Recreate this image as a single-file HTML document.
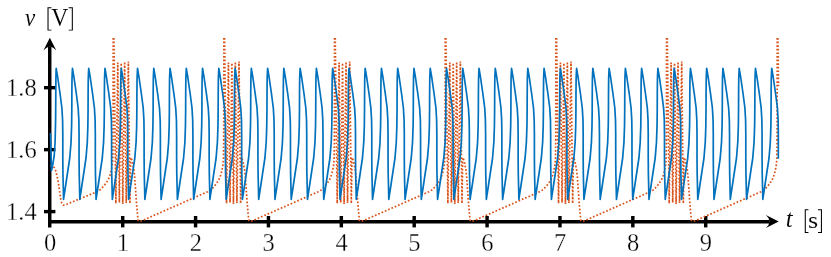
<!DOCTYPE html>
<html><head><meta charset="utf-8"><title>plot</title>
<style>
html,body{margin:0;padding:0;background:#fff;}
body{width:831px;height:257px;overflow:hidden;}
svg{display:block;}
text{font-family:"Liberation Serif",serif;font-size:24.5px;fill:#000;stroke:#fff;stroke-width:0.3px;paint-order:fill stroke;}
</style></head><body>
<svg width="831" height="257" viewBox="0 0 831 257">
<rect width="831" height="257" fill="#fff"/>
<path d="M48,46.8 H51.45 V220 H769.5 V223.45 H51.45 V227.4 H48 Z" fill="#000"/>
<g fill="#000"><rect x="120.98" y="216" width="3.45" height="11.4"/><rect x="193.85" y="216" width="3.45" height="11.4"/><rect x="266.72" y="216" width="3.45" height="11.4"/><rect x="339.60" y="216" width="3.45" height="11.4"/><rect x="412.47" y="216" width="3.45" height="11.4"/><rect x="485.35" y="216" width="3.45" height="11.4"/><rect x="558.23" y="216" width="3.45" height="11.4"/><rect x="631.10" y="216" width="3.45" height="11.4"/><rect x="703.98" y="216" width="3.45" height="11.4"/><rect x="44" y="209.90" width="11.4" height="3.4"/><rect x="44" y="147.95" width="11.4" height="3.4"/><rect x="44" y="86.00" width="11.4" height="3.4"/></g>
<path d="M49.85,37.7 L56.3,50.6 Q49.85,43.0 43.4,50.6 Z" fill="#000"/>
<path d="M778.7,221.44 L765.9,227.9 Q773.2,221.44 765.9,215.0 Z" fill="#000"/>
<path d="M50.20,165.50 L52.50,166.20 L54.30,167.60 L55.80,171.00 L57.10,176.20 L58.20,182.00 L59.20,188.40 L60.00,194.00 L60.70,199.00 L61.80,203.20 L63.40,205.20 L65.20,204.90 L96.96,191.75 L100.56,189.60 L104.36,185.30 L108.16,180.00 L110.46,174.00 L112.16,166.00 L112.76,160.00 L113.06,140.00 M113.21,38.00 L113.06,140.00 M113.91,38.00 L115.86,202.30 M115.86,203.20 L117.76,62.60 M119.36,200.70 L117.76,62.60 M119.36,202.50 L121.21,62.20 M122.76,202.30 L121.21,62.20 M122.76,204.10 L124.66,62.60 M126.21,201.30 L124.66,62.60 M126.21,203.10 L128.36,61.60 M129.96,202.10 L128.36,61.60 M129.96,203.00 L130.46,175.00 L130.56,160.00 L130.96,157.50 L132.16,161.00 L133.96,170.00 L134.76,178.00 L135.46,188.00 L136.56,204.00 L138.06,220.30 L139.56,221.40 L141.76,220.80 L207.63,191.75 L211.23,189.60 L215.03,185.30 L218.83,180.00 L221.13,174.00 L222.83,166.00 L223.43,160.00 L223.73,140.00 M223.88,38.00 L223.73,140.00 M224.58,38.00 L226.53,202.30 M226.53,203.20 L228.43,62.60 M230.03,200.70 L228.43,62.60 M230.03,202.50 L231.88,62.20 M233.43,202.30 L231.88,62.20 M233.43,204.10 L235.33,62.60 M236.88,201.30 L235.33,62.60 M236.88,203.10 L239.03,61.60 M240.63,202.10 L239.03,61.60 M240.63,203.00 L241.13,175.00 L241.23,160.00 L241.63,157.50 L242.83,161.00 L244.63,170.00 L245.43,178.00 L246.13,188.00 L247.23,204.00 L248.73,220.30 L250.23,221.40 L252.43,220.80 L318.30,191.75 L321.90,189.60 L325.70,185.30 L329.50,180.00 L331.80,174.00 L333.50,166.00 L334.10,160.00 L334.40,140.00 M334.55,38.00 L334.40,140.00 M335.25,38.00 L337.20,202.30 M337.20,203.20 L339.10,62.60 M340.70,200.70 L339.10,62.60 M340.70,202.50 L342.55,62.20 M344.10,202.30 L342.55,62.20 M344.10,204.10 L346.00,62.60 M347.55,201.30 L346.00,62.60 M347.55,203.10 L349.70,61.60 M351.30,202.10 L349.70,61.60 M351.30,203.00 L351.80,175.00 L351.90,160.00 L352.30,157.50 L353.50,161.00 L355.30,170.00 L356.10,178.00 L356.80,188.00 L357.90,204.00 L359.40,220.30 L360.90,221.40 L363.10,220.80 L428.97,191.75 L432.57,189.60 L436.37,185.30 L440.17,180.00 L442.47,174.00 L444.17,166.00 L444.77,160.00 L445.07,140.00 M445.22,38.00 L445.07,140.00 M445.92,38.00 L447.87,202.30 M447.87,203.20 L449.77,62.60 M451.37,200.70 L449.77,62.60 M451.37,202.50 L453.22,62.20 M454.77,202.30 L453.22,62.20 M454.77,204.10 L456.67,62.60 M458.22,201.30 L456.67,62.60 M458.22,203.10 L460.37,61.60 M461.97,202.10 L460.37,61.60 M461.97,203.00 L462.47,175.00 L462.57,160.00 L462.97,157.50 L464.17,161.00 L465.97,170.00 L466.77,178.00 L467.47,188.00 L468.57,204.00 L470.07,220.30 L471.57,221.40 L473.77,220.80 L539.64,191.75 L543.24,189.60 L547.04,185.30 L550.84,180.00 L553.14,174.00 L554.84,166.00 L555.44,160.00 L555.74,140.00 M555.89,38.00 L555.74,140.00 M556.59,38.00 L558.54,202.30 M558.54,203.20 L560.44,62.60 M562.04,200.70 L560.44,62.60 M562.04,202.50 L563.89,62.20 M565.44,202.30 L563.89,62.20 M565.44,204.10 L567.34,62.60 M568.89,201.30 L567.34,62.60 M568.89,203.10 L571.04,61.60 M572.64,202.10 L571.04,61.60 M572.64,203.00 L573.14,175.00 L573.24,160.00 L573.64,157.50 L574.84,161.00 L576.64,170.00 L577.44,178.00 L578.14,188.00 L579.24,204.00 L580.74,220.30 L582.24,221.40 L584.44,220.80 L650.31,191.75 L653.91,189.60 L657.71,185.30 L661.51,180.00 L663.81,174.00 L665.51,166.00 L666.11,160.00 L666.41,140.00 M666.56,38.00 L666.41,140.00 M667.26,38.00 L669.21,202.30 M669.21,203.20 L671.11,62.60 M672.71,200.70 L671.11,62.60 M672.71,202.50 L674.56,62.20 M676.11,202.30 L674.56,62.20 M676.11,204.10 L678.01,62.60 M679.56,201.30 L678.01,62.60 M679.56,203.10 L681.71,61.60 M683.31,202.10 L681.71,61.60 M683.31,203.00 L683.81,175.00 L683.91,160.00 L684.31,157.50 L685.51,161.00 L687.31,170.00 L688.11,178.00 L688.81,188.00 L689.91,204.00 L691.41,220.30 L692.91,221.40 L695.11,220.80 L760.98,191.75 L764.58,189.60 L768.38,185.30 L772.18,180.00 L774.48,174.00 L776.18,166.00 L776.78,160.00 L777.08,140.00 M777.23,38.00 L777.08,140.00 M777.93,38.00 L778.50,86.03" fill="none" stroke="#D95319" stroke-width="1.7" stroke-linejoin="round" stroke-dasharray="1.7 1.9"/>
<path d="M50.50,133.00 L50.90,150.00 L51.50,170.50 L52.50,166.00 L54.20,156.00 L55.10,142.00 L55.60,120.00 L55.80,94.00 L55.90,78.00 L56.20,68.45 L57.80,78.00 L60.10,94.00 L61.90,108.00 L62.60,120.00 L62.80,134.00 L62.80,158.00 L62.95,174.00 L63.30,188.00 L63.45,195.00 L63.56,199.45 L64.16,195.00 L64.96,190.00 L67.36,174.00 L69.76,158.00 L71.06,142.00 L71.61,126.00 L71.81,110.00 L71.86,94.00 L72.01,78.00 L72.46,68.45 L74.06,78.00 L76.36,94.00 L78.16,108.00 L78.86,120.00 L79.06,134.00 L79.06,158.00 L79.21,174.00 L79.56,188.00 L79.71,195.00 L79.82,199.45 L80.42,195.00 L81.22,190.00 L83.62,174.00 L86.02,158.00 L87.32,142.00 L87.87,126.00 L88.07,110.00 L88.12,94.00 L88.27,78.00 L88.72,68.45 L90.32,78.00 L92.62,94.00 L94.42,108.00 L95.12,120.00 L95.32,134.00 L95.32,158.00 L95.47,174.00 L95.82,188.00 L95.97,195.00 L96.09,199.45 L96.69,195.00 L97.49,190.00 L99.89,174.00 L102.29,158.00 L103.59,142.00 L104.14,126.00 L104.34,110.00 L104.39,94.00 L104.54,78.00 L104.99,68.45 L106.59,78.00 L108.89,94.00 L110.69,108.00 L111.39,120.00 L111.59,134.00 L111.59,158.00 L111.74,174.00 L112.09,188.00 L112.24,195.00 L112.35,199.45 L112.95,195.00 L113.75,190.00 L116.15,174.00 L118.55,158.00 L119.85,142.00 L120.40,126.00 L120.60,110.00 L120.65,94.00 L120.80,78.00 L121.25,68.45 L122.85,78.00 L125.15,94.00 L126.95,108.00 L127.65,120.00 L127.85,134.00 L127.85,158.00 L128.00,174.00 L128.35,188.00 L128.50,195.00 L128.61,199.45 L129.21,195.00 L130.01,190.00 L132.41,174.00 L134.81,158.00 L136.11,142.00 L136.66,126.00 L136.86,110.00 L136.91,94.00 L137.06,78.00 L137.51,68.45 L139.11,78.00 L141.41,94.00 L143.21,108.00 L143.91,120.00 L144.11,134.00 L144.11,158.00 L144.26,174.00 L144.61,188.00 L144.76,195.00 L144.87,199.45 L145.47,195.00 L146.27,190.00 L148.67,174.00 L151.07,158.00 L152.37,142.00 L152.92,126.00 L153.12,110.00 L153.17,94.00 L153.32,78.00 L153.77,68.45 L155.37,78.00 L157.67,94.00 L159.47,108.00 L160.17,120.00 L160.37,134.00 L160.37,158.00 L160.52,174.00 L160.87,188.00 L161.02,195.00 L161.13,199.45 L161.73,195.00 L162.53,190.00 L164.93,174.00 L167.33,158.00 L168.63,142.00 L169.18,126.00 L169.38,110.00 L169.43,94.00 L169.58,78.00 L170.03,68.45 L171.63,78.00 L173.93,94.00 L175.73,108.00 L176.43,120.00 L176.63,134.00 L176.63,158.00 L176.78,174.00 L177.13,188.00 L177.28,195.00 L177.40,199.45 L178.00,195.00 L178.80,190.00 L181.20,174.00 L183.60,158.00 L184.90,142.00 L185.45,126.00 L185.65,110.00 L185.70,94.00 L185.85,78.00 L186.30,68.45 L187.90,78.00 L190.20,94.00 L192.00,108.00 L192.70,120.00 L192.90,134.00 L192.90,158.00 L193.05,174.00 L193.40,188.00 L193.55,195.00 L193.66,199.45 L194.26,195.00 L195.06,190.00 L197.46,174.00 L199.86,158.00 L201.16,142.00 L201.71,126.00 L201.91,110.00 L201.96,94.00 L202.11,78.00 L202.56,68.45 L204.16,78.00 L206.46,94.00 L208.26,108.00 L208.96,120.00 L209.16,134.00 L209.16,158.00 L209.31,174.00 L209.66,188.00 L209.81,195.00 L209.92,199.45 L210.52,195.00 L211.32,190.00 L213.72,174.00 L216.12,158.00 L217.42,142.00 L217.97,126.00 L218.17,110.00 L218.22,94.00 L218.37,78.00 L218.82,68.45 L220.42,78.00 L222.72,94.00 L224.52,108.00 L225.22,120.00 L225.42,134.00 L225.42,158.00 L225.57,174.00 L225.92,188.00 L226.07,195.00 L226.18,199.45 L226.78,195.00 L227.58,190.00 L229.98,174.00 L232.38,158.00 L233.68,142.00 L234.23,126.00 L234.43,110.00 L234.48,94.00 L234.63,78.00 L235.08,68.45 L236.68,78.00 L238.98,94.00 L240.78,108.00 L241.48,120.00 L241.68,134.00 L241.68,158.00 L241.83,174.00 L242.18,188.00 L242.33,195.00 L242.44,199.45 L243.04,195.00 L243.84,190.00 L246.24,174.00 L248.64,158.00 L249.94,142.00 L250.49,126.00 L250.69,110.00 L250.74,94.00 L250.89,78.00 L251.34,68.45 L252.94,78.00 L255.24,94.00 L257.04,108.00 L257.74,120.00 L257.94,134.00 L257.94,158.00 L258.09,174.00 L258.44,188.00 L258.59,195.00 L258.71,199.45 L259.31,195.00 L260.11,190.00 L262.51,174.00 L264.91,158.00 L266.21,142.00 L266.76,126.00 L266.96,110.00 L267.01,94.00 L267.16,78.00 L267.61,68.45 L269.21,78.00 L271.51,94.00 L273.31,108.00 L274.01,120.00 L274.21,134.00 L274.21,158.00 L274.36,174.00 L274.71,188.00 L274.86,195.00 L274.97,199.45 L275.57,195.00 L276.37,190.00 L278.77,174.00 L281.17,158.00 L282.47,142.00 L283.02,126.00 L283.22,110.00 L283.27,94.00 L283.42,78.00 L283.87,68.45 L285.47,78.00 L287.77,94.00 L289.57,108.00 L290.27,120.00 L290.47,134.00 L290.47,158.00 L290.62,174.00 L290.97,188.00 L291.12,195.00 L291.23,199.45 L291.83,195.00 L292.63,190.00 L295.03,174.00 L297.43,158.00 L298.73,142.00 L299.28,126.00 L299.48,110.00 L299.53,94.00 L299.68,78.00 L300.13,68.45 L301.73,78.00 L304.03,94.00 L305.83,108.00 L306.53,120.00 L306.73,134.00 L306.73,158.00 L306.88,174.00 L307.23,188.00 L307.38,195.00 L307.49,199.45 L308.09,195.00 L308.89,190.00 L311.29,174.00 L313.69,158.00 L314.99,142.00 L315.54,126.00 L315.74,110.00 L315.79,94.00 L315.94,78.00 L316.39,68.45 L317.99,78.00 L320.29,94.00 L322.09,108.00 L322.79,120.00 L322.99,134.00 L322.99,158.00 L323.14,174.00 L323.49,188.00 L323.64,195.00 L323.75,199.45 L324.35,195.00 L325.15,190.00 L327.55,174.00 L329.95,158.00 L331.25,142.00 L331.80,126.00 L332.00,110.00 L332.05,94.00 L332.20,78.00 L332.65,68.45 L334.25,78.00 L336.55,94.00 L338.35,108.00 L339.05,120.00 L339.25,134.00 L339.25,158.00 L339.40,174.00 L339.75,188.00 L339.90,195.00 L340.02,199.45 L340.62,195.00 L341.42,190.00 L343.82,174.00 L346.22,158.00 L347.52,142.00 L348.07,126.00 L348.27,110.00 L348.32,94.00 L348.47,78.00 L348.92,68.45 L350.52,78.00 L352.82,94.00 L354.62,108.00 L355.32,120.00 L355.52,134.00 L355.52,158.00 L355.67,174.00 L356.02,188.00 L356.17,195.00 L356.28,199.45 L356.88,195.00 L357.68,190.00 L360.08,174.00 L362.48,158.00 L363.78,142.00 L364.33,126.00 L364.53,110.00 L364.58,94.00 L364.73,78.00 L365.18,68.45 L366.78,78.00 L369.08,94.00 L370.88,108.00 L371.58,120.00 L371.78,134.00 L371.78,158.00 L371.93,174.00 L372.28,188.00 L372.43,195.00 L372.54,199.45 L373.14,195.00 L373.94,190.00 L376.34,174.00 L378.74,158.00 L380.04,142.00 L380.59,126.00 L380.79,110.00 L380.84,94.00 L380.99,78.00 L381.44,68.45 L383.04,78.00 L385.34,94.00 L387.14,108.00 L387.84,120.00 L388.04,134.00 L388.04,158.00 L388.19,174.00 L388.54,188.00 L388.69,195.00 L388.80,199.45 L389.40,195.00 L390.20,190.00 L392.60,174.00 L395.00,158.00 L396.30,142.00 L396.85,126.00 L397.05,110.00 L397.10,94.00 L397.25,78.00 L397.70,68.45 L399.30,78.00 L401.60,94.00 L403.40,108.00 L404.10,120.00 L404.30,134.00 L404.30,158.00 L404.45,174.00 L404.80,188.00 L404.95,195.00 L405.06,199.45 L405.66,195.00 L406.46,190.00 L408.86,174.00 L411.26,158.00 L412.56,142.00 L413.11,126.00 L413.31,110.00 L413.36,94.00 L413.51,78.00 L413.96,68.45 L415.56,78.00 L417.86,94.00 L419.66,108.00 L420.36,120.00 L420.56,134.00 L420.56,158.00 L420.71,174.00 L421.06,188.00 L421.21,195.00 L421.33,199.45 L421.93,195.00 L422.73,190.00 L425.13,174.00 L427.53,158.00 L428.83,142.00 L429.38,126.00 L429.58,110.00 L429.63,94.00 L429.78,78.00 L430.23,68.45 L431.83,78.00 L434.13,94.00 L435.93,108.00 L436.63,120.00 L436.83,134.00 L436.83,158.00 L436.98,174.00 L437.33,188.00 L437.48,195.00 L437.59,199.45 L438.19,195.00 L438.99,190.00 L441.39,174.00 L443.79,158.00 L445.09,142.00 L445.64,126.00 L445.84,110.00 L445.89,94.00 L446.04,78.00 L446.49,68.45 L448.09,78.00 L450.39,94.00 L452.19,108.00 L452.89,120.00 L453.09,134.00 L453.09,158.00 L453.24,174.00 L453.59,188.00 L453.74,195.00 L453.85,199.45 L454.45,195.00 L455.25,190.00 L457.65,174.00 L460.05,158.00 L461.35,142.00 L461.90,126.00 L462.10,110.00 L462.15,94.00 L462.30,78.00 L462.75,68.45 L464.35,78.00 L466.65,94.00 L468.45,108.00 L469.15,120.00 L469.35,134.00 L469.35,158.00 L469.50,174.00 L469.85,188.00 L470.00,195.00 L470.11,199.45 L470.71,195.00 L471.51,190.00 L473.91,174.00 L476.31,158.00 L477.61,142.00 L478.16,126.00 L478.36,110.00 L478.41,94.00 L478.56,78.00 L479.01,68.45 L480.61,78.00 L482.91,94.00 L484.71,108.00 L485.41,120.00 L485.61,134.00 L485.61,158.00 L485.76,174.00 L486.11,188.00 L486.26,195.00 L486.37,199.45 L486.97,195.00 L487.77,190.00 L490.17,174.00 L492.57,158.00 L493.87,142.00 L494.42,126.00 L494.62,110.00 L494.67,94.00 L494.82,78.00 L495.27,68.45 L496.87,78.00 L499.17,94.00 L500.97,108.00 L501.67,120.00 L501.87,134.00 L501.87,158.00 L502.02,174.00 L502.37,188.00 L502.52,195.00 L502.64,199.45 L503.24,195.00 L504.04,190.00 L506.44,174.00 L508.84,158.00 L510.14,142.00 L510.69,126.00 L510.89,110.00 L510.94,94.00 L511.09,78.00 L511.54,68.45 L513.14,78.00 L515.44,94.00 L517.24,108.00 L517.94,120.00 L518.14,134.00 L518.14,158.00 L518.29,174.00 L518.64,188.00 L518.79,195.00 L518.90,199.45 L519.50,195.00 L520.30,190.00 L522.70,174.00 L525.10,158.00 L526.40,142.00 L526.95,126.00 L527.15,110.00 L527.20,94.00 L527.35,78.00 L527.80,68.45 L529.40,78.00 L531.70,94.00 L533.50,108.00 L534.20,120.00 L534.40,134.00 L534.40,158.00 L534.55,174.00 L534.90,188.00 L535.05,195.00 L535.16,199.45 L535.76,195.00 L536.56,190.00 L538.96,174.00 L541.36,158.00 L542.66,142.00 L543.21,126.00 L543.41,110.00 L543.46,94.00 L543.61,78.00 L544.06,68.45 L545.66,78.00 L547.96,94.00 L549.76,108.00 L550.46,120.00 L550.66,134.00 L550.66,158.00 L550.81,174.00 L551.16,188.00 L551.31,195.00 L551.42,199.45 L552.02,195.00 L552.82,190.00 L555.22,174.00 L557.62,158.00 L558.92,142.00 L559.47,126.00 L559.67,110.00 L559.72,94.00 L559.87,78.00 L560.32,68.45 L561.92,78.00 L564.22,94.00 L566.02,108.00 L566.72,120.00 L566.92,134.00 L566.92,158.00 L567.07,174.00 L567.42,188.00 L567.57,195.00 L567.68,199.45 L568.28,195.00 L569.08,190.00 L571.48,174.00 L573.88,158.00 L575.18,142.00 L575.73,126.00 L575.93,110.00 L575.98,94.00 L576.13,78.00 L576.58,68.45 L578.18,78.00 L580.48,94.00 L582.28,108.00 L582.98,120.00 L583.18,134.00 L583.18,158.00 L583.33,174.00 L583.68,188.00 L583.83,195.00 L583.95,199.45 L584.55,195.00 L585.35,190.00 L587.75,174.00 L590.15,158.00 L591.45,142.00 L592.00,126.00 L592.20,110.00 L592.25,94.00 L592.40,78.00 L592.85,68.45 L594.45,78.00 L596.75,94.00 L598.55,108.00 L599.25,120.00 L599.45,134.00 L599.45,158.00 L599.60,174.00 L599.95,188.00 L600.10,195.00 L600.21,199.45 L600.81,195.00 L601.61,190.00 L604.01,174.00 L606.41,158.00 L607.71,142.00 L608.26,126.00 L608.46,110.00 L608.51,94.00 L608.66,78.00 L609.11,68.45 L610.71,78.00 L613.01,94.00 L614.81,108.00 L615.51,120.00 L615.71,134.00 L615.71,158.00 L615.86,174.00 L616.21,188.00 L616.36,195.00 L616.47,199.45 L617.07,195.00 L617.87,190.00 L620.27,174.00 L622.67,158.00 L623.97,142.00 L624.52,126.00 L624.72,110.00 L624.77,94.00 L624.92,78.00 L625.37,68.45 L626.97,78.00 L629.27,94.00 L631.07,108.00 L631.77,120.00 L631.97,134.00 L631.97,158.00 L632.12,174.00 L632.47,188.00 L632.62,195.00 L632.73,199.45 L633.33,195.00 L634.13,190.00 L636.53,174.00 L638.93,158.00 L640.23,142.00 L640.78,126.00 L640.98,110.00 L641.03,94.00 L641.18,78.00 L641.63,68.45 L643.23,78.00 L645.53,94.00 L647.33,108.00 L648.03,120.00 L648.23,134.00 L648.23,158.00 L648.38,174.00 L648.73,188.00 L648.88,195.00 L648.99,199.45 L649.59,195.00 L650.39,190.00 L652.79,174.00 L655.19,158.00 L656.49,142.00 L657.04,126.00 L657.24,110.00 L657.29,94.00 L657.44,78.00 L657.89,68.45 L659.49,78.00 L661.79,94.00 L663.59,108.00 L664.29,120.00 L664.49,134.00 L664.49,158.00 L664.64,174.00 L664.99,188.00 L665.14,195.00 L665.26,199.45 L665.86,195.00 L666.66,190.00 L669.06,174.00 L671.46,158.00 L672.76,142.00 L673.31,126.00 L673.51,110.00 L673.56,94.00 L673.71,78.00 L674.16,68.45 L675.76,78.00 L678.06,94.00 L679.86,108.00 L680.56,120.00 L680.76,134.00 L680.76,158.00 L680.91,174.00 L681.26,188.00 L681.41,195.00 L681.52,199.45 L682.12,195.00 L682.92,190.00 L685.32,174.00 L687.72,158.00 L689.02,142.00 L689.57,126.00 L689.77,110.00 L689.82,94.00 L689.97,78.00 L690.42,68.45 L692.02,78.00 L694.32,94.00 L696.12,108.00 L696.82,120.00 L697.02,134.00 L697.02,158.00 L697.17,174.00 L697.52,188.00 L697.67,195.00 L697.78,199.45 L698.38,195.00 L699.18,190.00 L701.58,174.00 L703.98,158.00 L705.28,142.00 L705.83,126.00 L706.03,110.00 L706.08,94.00 L706.23,78.00 L706.68,68.45 L708.28,78.00 L710.58,94.00 L712.38,108.00 L713.08,120.00 L713.28,134.00 L713.28,158.00 L713.43,174.00 L713.78,188.00 L713.93,195.00 L714.04,199.45 L714.64,195.00 L715.44,190.00 L717.84,174.00 L720.24,158.00 L721.54,142.00 L722.09,126.00 L722.29,110.00 L722.34,94.00 L722.49,78.00 L722.94,68.45 L724.54,78.00 L726.84,94.00 L728.64,108.00 L729.34,120.00 L729.54,134.00 L729.54,158.00 L729.69,174.00 L730.04,188.00 L730.19,195.00 L730.30,199.45 L730.90,195.00 L731.70,190.00 L734.10,174.00 L736.50,158.00 L737.80,142.00 L738.35,126.00 L738.55,110.00 L738.60,94.00 L738.75,78.00 L739.20,68.45 L740.80,78.00 L743.10,94.00 L744.90,108.00 L745.60,120.00 L745.80,134.00 L745.80,158.00 L745.95,174.00 L746.30,188.00 L746.45,195.00 L746.57,199.45 L747.17,195.00 L747.97,190.00 L750.37,174.00 L752.77,158.00 L754.07,142.00 L754.62,126.00 L754.82,110.00 L754.87,94.00 L755.02,78.00 L755.47,68.45 L757.07,78.00 L759.37,94.00 L761.17,108.00 L761.87,120.00 L762.07,134.00 L762.07,158.00 L762.22,174.00 L762.57,188.00 L762.72,195.00 L762.83,199.45 L763.43,195.00 L764.23,190.00 L766.63,174.00 L769.03,158.00 L770.33,142.00 L770.88,126.00 L771.08,110.00 L771.13,94.00 L771.28,78.00 L771.73,68.45 L773.33,78.00 L775.63,94.00 L777.43,108.00 L778.13,120.00 L778.33,134.00 L778.33,158.00 L778.34,158.75" fill="none" stroke="#0072BD" stroke-width="1.7" stroke-linejoin="round" stroke-linecap="butt"/>
<g style="filter:grayscale(1)"><text x="50.03" y="250.6" text-anchor="middle">0</text><text x="122.90" y="250.6" text-anchor="middle">1</text><text x="195.77" y="250.6" text-anchor="middle">2</text><text x="268.65" y="250.6" text-anchor="middle">3</text><text x="341.52" y="250.6" text-anchor="middle">4</text><text x="414.40" y="250.6" text-anchor="middle">5</text><text x="487.27" y="250.6" text-anchor="middle">6</text><text x="560.15" y="250.6" text-anchor="middle">7</text><text x="633.03" y="250.6" text-anchor="middle">8</text><text x="705.90" y="250.6" text-anchor="middle">9</text><text x="36.7" y="220.10" text-anchor="end">1.4</text><text x="36.7" y="158.15" text-anchor="end">1.6</text><text x="36.7" y="96.20" text-anchor="end">1.8</text>
<text transform="translate(25.04,25.51) scale(0.9393,1.0231)" font-style="italic" style="stroke-width:0.1px">v</text><text transform="translate(51.19,25.77) scale(0.9625,1.0297)" style="stroke-width:0.1px">V</text><path d="M51.45,7.35 H47.50 V30.55 H51.45 V29.70 H48.55 V8.20 H51.45 Z" fill="#000"/><path d="M68.65,7.35 H72.85 V30.55 H68.65 V29.70 H71.80 V8.20 H68.65 Z" fill="#000"/><text transform="translate(785.86,227.46) scale(1.0127,1.0226)" font-style="italic" style="stroke-width:0.1px">t</text><text transform="translate(808.08,227.63) scale(1.0662,0.9293)" style="stroke-width:0.1px">s</text><path d="M808.45,209.35 H804.75 V232.95 H808.45 V232.10 H805.80 V210.20 H808.45 Z" fill="#000"/><path d="M818.00,209.35 H821.95 V232.95 H818.00 V232.10 H820.90 V210.20 H818.00 Z" fill="#000"/>
</g>
</svg>
</body></html>
